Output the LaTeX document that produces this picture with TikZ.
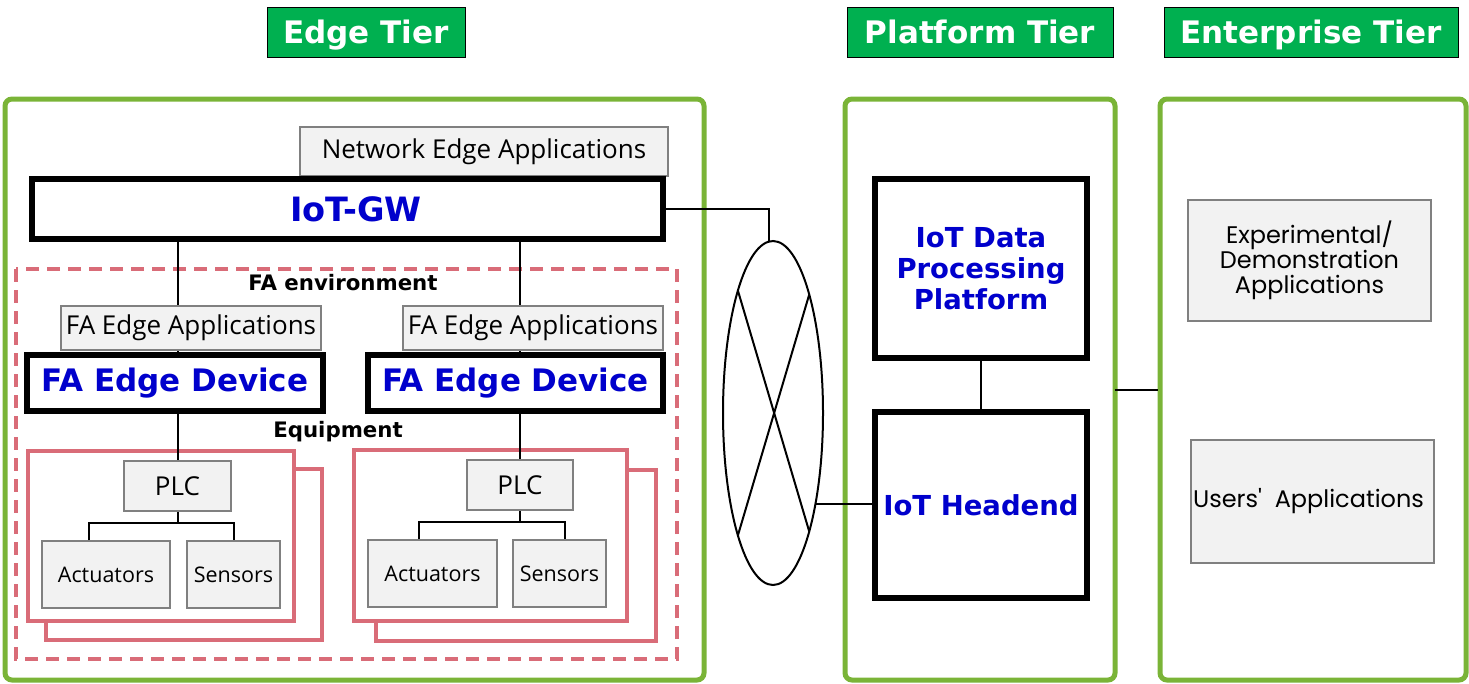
\documentclass[tikz,border=0pt]{standalone}
\usepackage{fontspec}
\setmainfont{Open Sans}
\newfontfamily\dvfont{DejaVu Sans}
\newfontfamily\popfont{Poppins}
\usetikzlibrary{shapes.geometric,calc}
\definecolor{panelgreen}{HTML}{7AB437}
\definecolor{hdrgreen}{HTML}{00B050}
\definecolor{eqpink}{HTML}{D96C78}
\definecolor{tblue}{HTML}{0000CC}
\definecolor{boxgray}{HTML}{F2F2F2}
\definecolor{linegray}{HTML}{808080}
\begin{document}
\begin{tikzpicture}[x=1pt,y=-1pt,
  hdr/.style={draw=black,line width=1,fill=hdrgreen,text=white,inner sep=0,text depth=0pt,
    font=\dvfont\bfseries\fontsize{31}{31}\selectfont},
  panel/.style={draw=panelgreen,line width=5,rounded corners=7,inner sep=0},
  appbox/.style={draw=linegray,line width=2,fill=boxgray,inner sep=0,
    font=\fontsize{26}{26}\selectfont},
  smallbox/.style={appbox,font=\fontsize{21.5}{21.5}\selectfont},
  entbox/.style={appbox,align=center,font=\popfont\fontsize{24}{25}\selectfont},
  corebox/.style={draw=black,line width=5.2,fill=white,inner sep=0,text=tblue,
    align=center,font=\dvfont\bfseries\fontsize{27.5}{31}\selectfont},
  grouplabel/.style={inner sep=0,font=\dvfont\bfseries\fontsize{21.3}{21.3}\selectfont},
  envdash/.style={draw=eqpink,line width=3.5,dash pattern=on 13 off 8},
  eqframe/.style={draw=eqpink,line width=4.8,fill=white},
  conn/.style={draw=black,line width=2}
]
\useasboundingbox (0,0) rectangle (1469,683);

% tier headers
\node[hdr,minimum width=198,minimum height=50] (hE) at (366,32) {Edge Tier};
\node[hdr,minimum width=266,minimum height=50] (hP) at (980,32) {Platform Tier};
\node[hdr,minimum width=294,minimum height=50] (hN) at (1311,32) {Enterprise Tier};

% tier panels
\node[panel,minimum width=699,minimum height=581] (pE) at (354.5,389.5) {};
\node[panel,minimum width=270,minimum height=581] (pP) at (980,389.5) {};
\node[panel,minimum width=306,minimum height=581] (pN) at (1313,389.5) {};

% edge tier
\node[appbox,minimum width=368,minimum height=49] (nea) at (484,151.5) {Network Edge Applications};
\node[corebox,minimum width=631,minimum height=60,font=\dvfont\bfseries\fontsize{33.5}{33.5}\selectfont] (gw) at (347.5,209) {\hspace*{17pt}IoT-GW};

\draw[envdash] (16,269) rectangle (677,659);
\node[grouplabel] (envlbl) at (343,283) {FA environment};

\node[appbox,minimum width=260,minimum height=44] (faapp1) at (191,328) {FA Edge Applications};
\node[appbox,minimum width=260,minimum height=44] (faapp2) at (533,328) {FA Edge Applications};
\node[corebox,minimum width=296,minimum height=56,font=\dvfont\bfseries\fontsize{31}{31}\selectfont] (dev1) at (175,383) {FA Edge Device};
\node[corebox,minimum width=295,minimum height=56,font=\dvfont\bfseries\fontsize{31}{31}\selectfont] (dev2) at (515.5,383) {FA Edge Device};

\node[grouplabel] (eqlbl) at (338,432) {Equipment};

\draw[eqframe] (46,469) rectangle (322,640);
\draw[eqframe] (28,451) rectangle (294,621);
\draw[eqframe] (376,470) rectangle (656,641);
\draw[eqframe] (354,450) rectangle (627,621);

\node[appbox,minimum width=107,minimum height=50] (plc1) at (177.5,486) {PLC};
\node[appbox,minimum width=106,minimum height=50] (plc2) at (520,485) {PLC};
\node[smallbox,minimum width=128,minimum height=67] (act1) at (106,574.5) {Actuators};
\node[smallbox,minimum width=93,minimum height=67] (sen1) at (233.5,574.5) {Sensors};
\node[smallbox,minimum width=129,minimum height=67] (act2) at (432.5,573.5) {Actuators};
\node[smallbox,minimum width=93,minimum height=67] (sen2) at (559.5,573.5) {Sensors};

% network cloud
\node[ellipse,draw=black,line width=2,minimum width=100,minimum height=344,inner sep=0,outer sep=0] (ell) at (773,413) {};

% platform tier
\node[corebox,minimum width=212,minimum height=179] (dpp) at (981,268.5) {IoT Data\\Processing\\Platform};
\node[corebox,minimum width=212,minimum height=186] (head) at (981,505) {IoT Headend};

% enterprise tier
\node[entbox,minimum width=243,minimum height=121] (exp) at (1309.5,260.5) {Experimental/\\Demonstration\\ Applications};
\node[entbox,minimum width=243,minimum height=123] (usr) at (1312.5,501.5) {\hspace*{-8pt}Users\char39\ \ Applications};

% connectors
\draw[conn] (gw.south -| plc1.north) -- (faapp1.north -| plc1.north);
\draw[conn] (faapp1.south -| plc1.north) -- (dev1.north -| plc1.north);
\draw[conn] (dev1.south -| plc1.north) -- (plc1.north);
\draw[conn] (gw.south -| plc2.north) -- (faapp2.north -| plc2.north);
\draw[conn] (faapp2.south -| plc2.north) -- (dev2.north -| plc2.north);
\draw[conn] (dev2.south -| plc2.north) -- (plc2.north);

\coordinate (b1) at ($(plc1.south)+(0,11)$);
\coordinate (b2) at ($(plc2.south)+(0,11)$);
\draw[conn] (plc1.south) -- (b1);
\draw[conn] ([xshift=-17]act1.north) |- (b1) -| (sen1.north);
\draw[conn] (plc2.south) -- (b2);
\draw[conn] ([xshift=-13.5]act2.north) |- (b2) -| ([xshift=5.5]sen2.north);

\draw[conn] (gw.east) -| ([xshift=-4]ell.north);
\draw[conn] (ell.106.1) -- (ell.-73.9);
\draw[conn] (ell.73.9) -- (ell.-106.1);
\draw[conn] (ell.-65.5) -- (ell.-65.5 -| head.west);
\draw[conn] (dpp.south) -- (head.north);
\draw[conn] ([xshift=-3]pP.east) -- (pN.west);
\end{tikzpicture}
\end{document}
